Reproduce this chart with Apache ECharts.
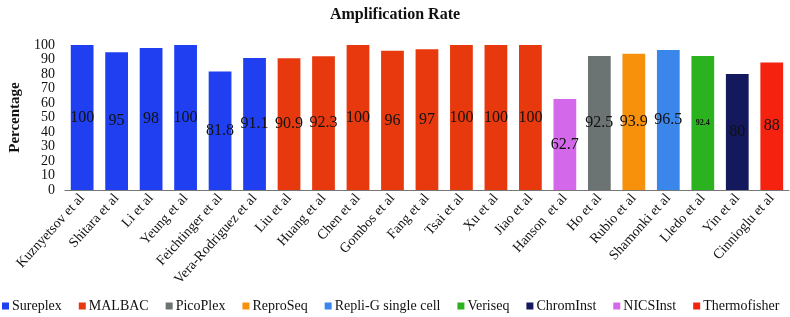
<!DOCTYPE html>
<html>
<head>
<meta charset="utf-8">
<script src="https://cdn.jsdelivr.net/npm/echarts@6/dist/echarts.min.js"></script>
<style>
    html, body { margin: 0; padding: 0; background: #fff; }
    #chart { width: 790px; height: 317px; }
</style>
</head>
<body>
<div id="chart"></div>
<script>
    // studies on the x axis
    const authors = ['Kuznyetsov et al', 'Shitara et al', 'Li et al', 'Yeung et al', 'Feichtinger et al',
        'Vera-Rodriguez et al', 'Liu et al', 'Huang et al', 'Chen et al', 'Gombos et al', 'Fang et al',
        'Tsai et al', 'Xu et al', 'Jiao et al', 'Hanson  et al', 'Ho et al', 'Rubio et al',
        'Shamonki et al', 'Lledo et al', 'Yin et al', 'Cinnioglu et al'];
    const rates = [100, 95, 98, 100, 81.8, 91.1, 90.9, 92.3, 100, 96, 97, 100, 100, 100, 62.7,
        92.5, 93.9, 96.5, 92.4, 80, 88];
    // which kit each study used
    const studyKit = ['Sureplex', 'Sureplex', 'Sureplex', 'Sureplex', 'Sureplex', 'Sureplex',
        'MALBAC', 'MALBAC', 'MALBAC', 'MALBAC', 'MALBAC', 'MALBAC', 'MALBAC', 'MALBAC',
        'NICSInst', 'PicoPlex', 'ReproSeq', 'Repli-G single cell', 'Veriseq', 'ChromInst', 'Thermofisher'];
    const kits = ['Sureplex', 'MALBAC', 'PicoPlex', 'ReproSeq', 'Repli-G single cell',
        'Veriseq', 'ChromInst', 'NICSInst', 'Thermofisher'];
    const kitColors = ['#1f3ff0', '#e8390e', '#6c7473', '#f7900b', '#3b86ea',
        '#2bb31f', '#13195c', '#d468ea', '#f5220f'];
    const yTicks = [0, 10, 20, 30, 40, 50, 60, 70, 80, 90, 100];

    const serif = '"Liberation Serif", "DejaVu Serif", serif';

    const series = kits.map(function (kit, k) {
        return {
            name: kit,
            type: 'bar',
            stack: 'all',
            barWidth: '66%',
            itemStyle: { color: kitColors[k] },
            label: {
                show: true,
                position: 'inside',
                color: '#111',
                fontFamily: serif,
                fontSize: kit === 'Veriseq' ? 8 : 16,
                fontWeight: kit === 'Veriseq' ? 'bold' : 'normal'
            },
            data: rates.map(function (v, i) { return studyKit[i] === kit ? v : '-'; })
        };
    });

    const myChart = echarts.init(document.getElementById('chart'));
    const option = {
        animation: false,
        textStyle: { fontFamily: serif },
        title: {
            text: 'Amplification Rate',
            left: 'center',
            top: 2,
            textStyle: { fontFamily: serif, fontSize: 16, fontWeight: 'bold', color: '#111' }
        },
        legend: {
            data: kits,
            bottom: 4,
            left: 0,
            width: 790,
            padding: [0, 0, 0, 2],
            itemWidth: 7,
            itemHeight: 7,
            itemGap: 17,
            icon: 'rect',
            textStyle: { fontFamily: serif, fontSize: 14, color: '#111', padding: [0, 0, 0, -2] }
        },
        grid: { left: 57, right: 1, top: 45, bottom: 127 },
        xAxis: {
            type: 'category',
            data: authors,
            axisTick: { show: false },
            axisLine: { lineStyle: { color: '#777' } },
            axisLabel: {
                interval: 0,
                rotate: 48,
                fontFamily: serif,
                fontSize: 14,
                color: '#111',
                margin: 6
            }
        },
        yAxis: {
            type: 'value',
            min: yTicks[0],
            max: yTicks[yTicks.length - 1],
            interval: 10,
            name: 'Percentage',
            nameLocation: 'middle',
            nameGap: 38,
            nameTextStyle: { fontFamily: serif, fontSize: 15, fontWeight: 'bold', color: '#111' },
            splitLine: { show: false },
            axisLine: { show: false },
            axisTick: { show: false },
            axisLabel: {
                fontFamily: serif, fontSize: 14, color: '#111', margin: 10,
                showMinLabel: true, showMaxLabel: true, hideOverlap: false
            }
        },
        series: series
    };
    myChart.setOption(option);
</script>
</body>
</html>
